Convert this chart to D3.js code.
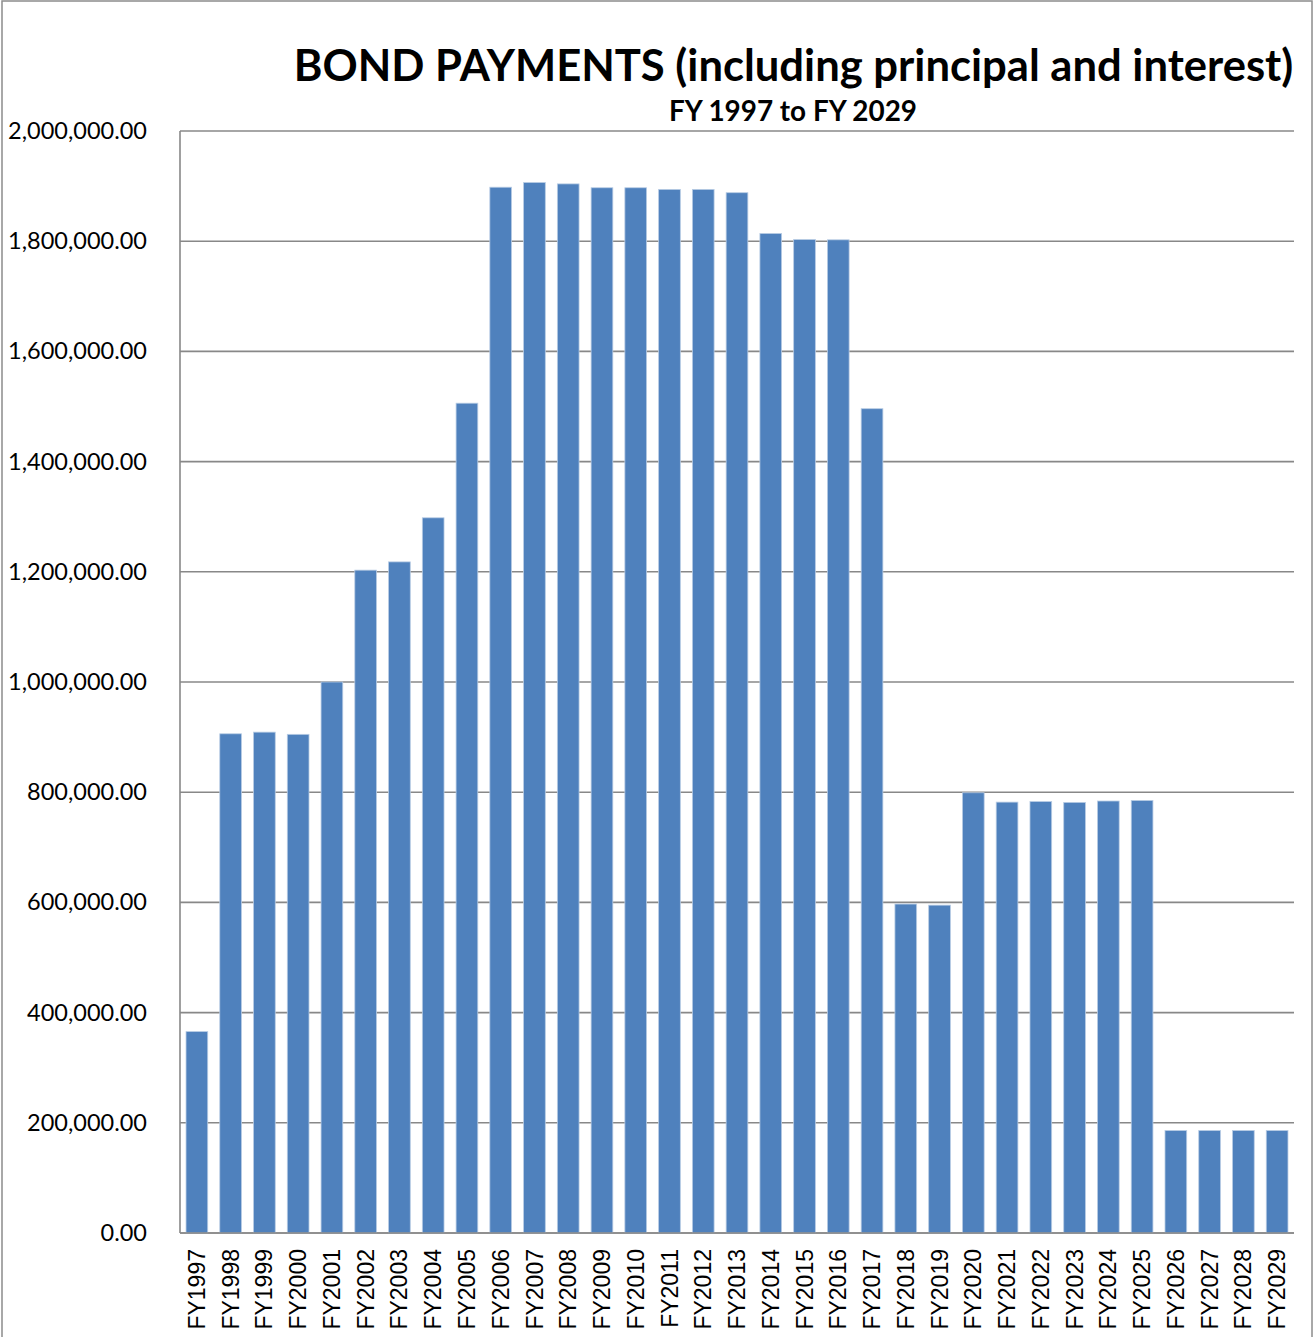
<!DOCTYPE html>
<html>
<head>
<meta charset="utf-8">
<script src="https://cdn.jsdelivr.net/npm/d3@7"></script>
<style>
  html, body { margin: 0; padding: 0; background: #fff; }
  svg { display: block; }
</style>
</head>
<body>
<svg id="chart" width="1313" height="1337"></svg>
<script>
const categories = ["FY1997","FY1998","FY1999","FY2000","FY2001","FY2002","FY2003","FY2004","FY2005","FY2006","FY2007","FY2008","FY2009","FY2010","FY2011","FY2012","FY2013","FY2014","FY2015","FY2016","FY2017","FY2018","FY2019","FY2020","FY2021","FY2022","FY2023","FY2024","FY2025","FY2026","FY2027","FY2028","FY2029"];
const payments = [365500, 906000, 909000, 905000, 1000000, 1203000, 1218000, 1298000, 1506000, 1898000, 1906500, 1904000, 1897000, 1897000, 1894000, 1894000, 1888000, 1814000, 1803000, 1802500, 1496000, 597000, 595000, 799000, 782000, 783000, 781500, 784000, 785000, 186000, 186000, 186000, 186000];
const yTicks = [0, 200000, 400000, 600000, 800000, 1000000, 1200000, 1400000, 1600000, 1800000, 2000000];
const titleText = "BOND PAYMENTS (including principal and interest)";
const subtitleText = "FY 1997 to FY 2029";

const svg = d3.select("#chart");
const W = 1313, H = 1337;
const plot = { left: 180, right: 1294, top: 131, bottom: 1233 };

// outer frame
svg.append("rect")
  .attr("x", 2).attr("y", 1).attr("width", W - 3).attr("height", H + 10)
  .attr("fill", "none").attr("stroke", "#8c8c8c").attr("stroke-width", 1.5);

const x = d3.scaleBand()
  .domain(categories)
  .range([plot.left, plot.right])
  .paddingInner(0.357)
  .paddingOuter(0.1785);

const y = d3.scaleLinear()
  .domain([0, 2000000])
  .range([plot.bottom, plot.top]);

// gridlines
svg.append("g")
  .selectAll("line")
  .data(yTicks)
  .join("line")
  .attr("x1", plot.left).attr("x2", plot.right)
  .attr("y1", d => y(d)).attr("y2", d => y(d))
  .attr("stroke", "#888888").attr("stroke-width", 1.6);

// y axis labels
const yAxis = d3.axisLeft(y).tickValues(yTicks).tickFormat(d3.format(",.2f")).tickSize(0).tickPadding(33);
const yg = svg.append("g").attr("transform", `translate(${plot.left},0)`).call(yAxis);
yg.select(".domain").remove();
yg.selectAll("text")
  .attr("font-family", "Lato, 'Open Sans', sans-serif")
  .attr("font-size", 23.5)
  .attr("fill", "#000");

// bars
svg.append("g")
  .selectAll("rect")
  .data(categories.map((c, i) => ({ c, v: payments[i] })))
  .join("rect")
  .attr("x", d => x(d.c))
  .attr("width", x.bandwidth())
  .attr("y", d => y(d.v))
  .attr("height", d => y(0) - y(d.v))
  .attr("fill", "#4F81BD")
  .attr("stroke", "#b8cce4")
  .attr("stroke-width", 0.8);

// axis lines
svg.append("line")
  .attr("x1", plot.left).attr("x2", plot.left)
  .attr("y1", plot.top).attr("y2", plot.bottom)
  .attr("stroke", "#888888").attr("stroke-width", 1.6);
svg.append("line")
  .attr("x1", plot.left).attr("x2", plot.right)
  .attr("y1", plot.bottom).attr("y2", plot.bottom)
  .attr("stroke", "#888888").attr("stroke-width", 1.6);

// x axis labels
const xAxis = d3.axisBottom(x).tickSize(0).tickPadding(0);
const xg = svg.append("g").attr("transform", `translate(0,${plot.bottom})`).call(xAxis);
xg.select(".domain").remove();
xg.selectAll("text")
  .attr("font-family", "'Liberation Sans', Arial, sans-serif")
  .attr("font-size", 23)
  .attr("fill", "#000")
  .attr("text-anchor", "end")
  .attr("dy", "0.35em")
  .attr("transform", "translate(0,16) rotate(-90)")
  .attr("x", 0).attr("y", 0);

// title (font size fitted to the reference's title width)
const title = svg.append("text")
  .attr("x", 793.5).attr("y", 81)
  .attr("text-anchor", "middle")
  .attr("font-family", "Lato, 'Open Sans', sans-serif")
  .attr("font-weight", "bold")
  .attr("font-size", 44)
  .attr("fill", "#000")
  .text(titleText);
const tw = title.node().getComputedTextLength();
if (tw > 0) title.attr("font-size", Math.min(50, 44 * 1000 / tw));

const sub = svg.append("text")
  .attr("x", 793).attr("y", 121)
  .attr("text-anchor", "middle")
  .attr("font-family", "Lato, 'Open Sans', sans-serif")
  .attr("font-weight", "bold")
  .attr("font-size", 26)
  .attr("fill", "#000")
  .text(subtitleText);
const sw = sub.node().getComputedTextLength();
if (sw > 0) sub.attr("font-size", Math.min(28, 26 * 248 / sw));
</script>
</body>
</html>
